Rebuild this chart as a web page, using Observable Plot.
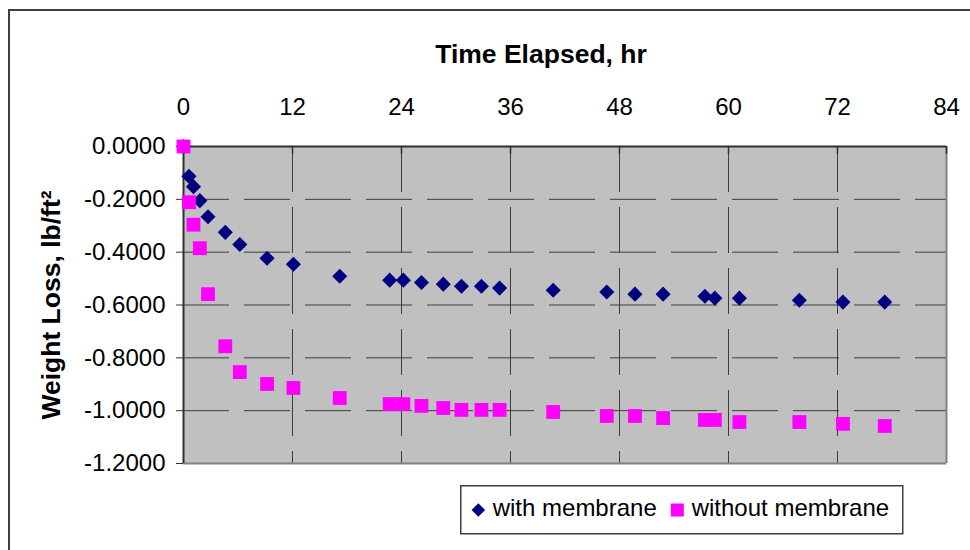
<!DOCTYPE html>
<html>
<head>
<meta charset="utf-8">
<script src="https://cdn.jsdelivr.net/npm/d3@7"></script>
<script src="https://cdn.jsdelivr.net/npm/@observablehq/plot@0.6"></script>
<style>
  body { margin: 0; background: #fff; }
  #wrap { position: relative; width: 970px; height: 550px; overflow: hidden; font-family: "Liberation Sans", Arial, sans-serif; }
  #wrap > svg.plot { position: absolute; left: 0; top: 0; }
  #border { position: absolute; left: 8px; top: 9px; width: 1000px; height: 600px; border: 2px solid #404040; box-sizing: border-box; pointer-events: none; }
</style>
</head>
<body>
<div id="wrap"><div id="border"></div></div>
<script>
// ---- data ----
const hours = [0, 0.6, 1.1, 1.8, 2.7, 4.6, 6.2, 9.2, 12.1, 17.2, 22.7, 24.2, 26.2, 28.6, 30.6, 32.8, 34.8, 40.7, 46.6, 49.7, 52.8, 57.4, 58.5, 61.2, 67.8, 72.6, 77.2];
const lossWithMembrane = [0, -0.113, -0.152, -0.205, -0.266, -0.325, -0.371, -0.423, -0.446, -0.491, -0.506, -0.506, -0.515, -0.521, -0.529, -0.529, -0.536, -0.544, -0.551, -0.559, -0.559, -0.567, -0.574, -0.574, -0.582, -0.589, -0.589];
const lossWithoutMembrane = [0, -0.211, -0.296, -0.385, -0.559, -0.756, -0.854, -0.899, -0.914, -0.952, -0.975, -0.975, -0.982, -0.990, -0.997, -0.997, -0.997, -1.005, -1.020, -1.020, -1.028, -1.035, -1.035, -1.043, -1.043, -1.050, -1.058];
const seriesNames = ["with membrane", "without membrane"];
const xTicks = [0, 12, 24, 36, 48, 60, 72, 84];
const yTicks = [0, -0.2, -0.4, -0.6, -0.8, -1.0, -1.2];
const xTitle = "Time Elapsed, hr";
const yTitle = "Weight Loss, lb/ft²";

// ---- styles ----
const colors = ["#000080", "#ff00ff"];
const symbols = ["diamond2", "square"];
const gridColor = "#3c3c3c";

const withData = hours.map((h, i) => ({h, v: lossWithMembrane[i]}));
const withoutData = hours.map((h, i) => ({h, v: lossWithoutMembrane[i]}));

const chart = Plot.plot({
  width: 970,
  height: 550,
  marginLeft: 183,
  marginRight: 24,
  marginTop: 146,
  marginBottom: 87,
  style: {fontFamily: '"Liberation Sans", Arial, sans-serif', fontSize: "24px", background: "transparent", color: "#000", overflow: "visible"},
  x: {domain: [0, 84]},
  y: {domain: [-1.2, 0]},
  marks: [
    Plot.frame({fill: "#c0c0c0", stroke: null}),
    Plot.gridX(xTicks.filter(t => t > 0 && t < 84), {stroke: gridColor, strokeOpacity: 1, strokeWidth: 1, strokeDasharray: "46,15"}),
    Plot.gridY(yTicks.filter(t => t < 0 && t > -1.2), {stroke: gridColor, strokeOpacity: 1, strokeWidth: 1, strokeDasharray: "46,15"}),
    Plot.ruleX([84], {stroke: "#808080", strokeWidth: 2}),
    Plot.ruleY([-1.2], {stroke: "#808080", strokeWidth: 2}),
    Plot.ruleX([0], {stroke: "#303030", strokeWidth: 2}),
    Plot.ruleY([0], {stroke: "#303030", strokeWidth: 2}),
    Plot.ruleX(xTicks, {y1: 0, y2: -0.03, stroke: "#303030", strokeWidth: 1.5}),
    Plot.axisX(xTicks, {anchor: "top", tickSize: 0, tickPadding: 32, label: null}),
    Plot.axisY(yTicks, {anchor: "left", tickSize: 7, tickPadding: 11, tickFormat: d => d.toFixed(4), label: null, stroke: "#303030"}),
    Plot.dot(withData, {x: "h", y: "v", symbol: symbols[0], r: 6.8, fill: colors[0], stroke: null}),
    Plot.dot(withoutData, {x: "h", y: "v", symbol: symbols[1], r: 7.8, fill: colors[1], stroke: null}),
    Plot.text([xTitle], {frameAnchor: "top", dx: -24, dy: -84, lineAnchor: "bottom", fontWeight: "bold", fontSize: 26.5}),
    Plot.text([yTitle], {frameAnchor: "left", rotate: -90, textAnchor: "middle", lineAnchor: "middle", dx: -132, dy: 0, fontWeight: "bold", fontSize: 26.5})
  ]
});
chart.classList.add("plot");
document.getElementById("wrap").appendChild(chart);

// ---- legend (HTML/SVG below the plot area) ----
const legend = d3.select("#wrap").append("svg")
  .attr("width", 444).attr("height", 50)
  .style("position", "absolute").style("left", "460px").style("top", "485px")
  .style("font-family", '"Liberation Sans", Arial, sans-serif');
legend.append("rect").attr("x", 0.75).attr("y", 0.75).attr("width", 442).attr("height", 48)
  .attr("fill", "#fff").attr("stroke", "#404040").attr("stroke-width", 1.5);
const items = [
  {sym: d3.symbolDiamond2, size: 6.6 * 6.6 * Math.PI * 0.85, cx: 18.3, tx: 32.7},
  {sym: d3.symbolSquare, size: 13 * 13, cx: 217.3, tx: 231.7}
];
items.forEach((it, i) => {
  legend.append("path").attr("d", d3.symbol(it.sym, it.size)()).attr("transform", `translate(${it.cx},25)`).attr("fill", colors[i]);
  legend.append("text").attr("x", it.tx).attr("y", 31).attr("font-size", 24).attr("fill", "#000").text(seriesNames[i]);
});
</script>
</body>
</html>
